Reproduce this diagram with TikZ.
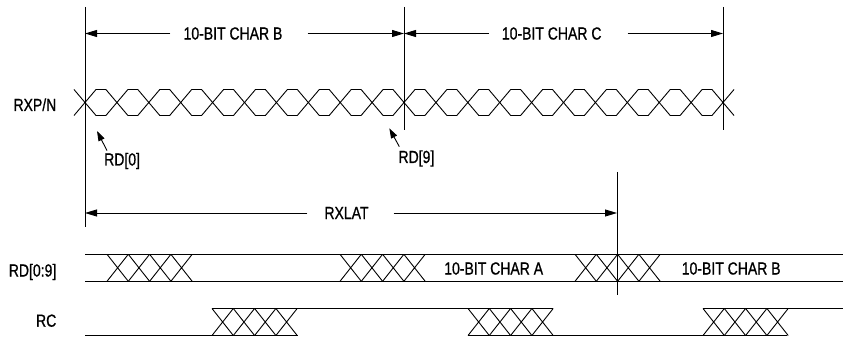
\documentclass[tikz,border=0pt]{standalone}
\usepackage{fontspec}
\setmainfont{Liberation Sans}[FakeStretch=0.8,FakeBold=0.8]
\usetikzlibrary{arrows.meta}

\tikzset{
  sig/.style={line width=0.9pt},
  dim/.style={line width=0.9pt,-{Triangle[length=12pt,width=7pt]}},
  ptr/.style={line width=0.9pt,-{Triangle[length=10pt,width=6.5pt]}},
  lbl/.style={inner sep=0pt,font=\fontsize{17.5}{20}\selectfont}
}

% four crossings starting at x=#1, between y=#2 and y=#3
\newcommand{\busxing}[3]{%
  \foreach \k in {0,...,3}
    \draw[sig] (#1+21.3*\k,#2) -- (#1+21.3*\k+21.3,#3)
               (#1+21.3*\k,#3) -- (#1+21.3*\k+21.3,#2);
}

\begin{document}
\begin{tikzpicture}[x=1pt,y=-1pt]
        \useasboundingbox (0,0) rectangle (843,339);

        % timing marks
        \coordinate (tA) at (85,7);   \coordinate (bA) at (85,227);
        \coordinate (tB) at (404,7);  \coordinate (bB) at (404,130);
        \coordinate (tC) at (723,7);  \coordinate (bC) at (723,130);
        \coordinate (tD) at (617,172); \coordinate (bD) at (617,295);
        \draw[sig] (tA) -- (bA);
        \draw[sig] (tB) -- (bB);
        \draw[sig] (tC) -- (bC);
        \draw[sig] (tD) -- (bD);

        % serial data, 20 bits
        \foreach \k in {0,...,19} {
          \pgfmathsetmacro{\cx}{85+31.9*\k}
          \draw[sig] (\cx,102.5) -- (\cx+11,89.5) -- (\cx+20.9,89.5) -- (\cx+31.9,102.5)
                     -- (\cx+20.9,115.5) -- (\cx+11,115.5) -- cycle;
        }
        \draw[sig] (74,89.5) -- (85,102.5) -- (74,115.5); % left end
        \draw[sig] (734,89.5) -- (723,102.5) -- (734,115.5); % right end

        % character widths
        \node[lbl] (charB) at (233,33.5) {10-BIT CHAR B};
        \draw[dim] ([xshift=-13pt]charB.west) -- (charB.west -| tA);
        \draw[dim] ([xshift=25pt]charB.east) -- (charB.east -| tB);
        \node[lbl] (charC) at (551.7,33.5) {10-BIT CHAR C};
        \draw[dim] ([xshift=-12.5pt]charC.west) -- (charC.west -| tB);
        \draw[dim] ([xshift=26pt]charC.east) -- (charC.east -| tC);

        % latency
        \node[lbl] (rxlat) at (346.5,213) {RXLAT};
        \draw[dim] ([xshift=-17pt]rxlat.west) -- (rxlat.west -| tA);
        \draw[dim] ([xshift=25pt]rxlat.east) -- (rxlat.east -| tD);

        % bit pointers
        \coordinate (rd0tip) at (97,131);
        \coordinate (rd9tip) at (389.3,128.3);
        \node[lbl,anchor=base west] (rd0) at (104,165.5) {RD[0]};
        \node[lbl,anchor=base west] (rd9) at (398.3,163) {RD[9]};
        \draw[ptr] ([shift={(3pt,2pt)}]rd0.north west) -- (rd0tip);
        \draw[ptr] ([shift={(1pt,3.5pt)}]rd9.north west) -- (rd9tip);

        % signal names
        \node[lbl,anchor=base east] (nRXP) at (56.5,111) {RXP/N};
        \node[lbl,anchor=base east] (nRD) at (56.5,276.5) {RD[0:9]};
        \node[lbl,anchor=base east] (nRC) at (56.5,326.7) {RC};

        % parallel data bus
        \draw[sig] (85,254.3) -- (843,254.3) (85,281.3) -- (843,281.3);
        \busxing{107}{254.3}{281.3}
        \busxing{340}{254.3}{281.3}
        \busxing{575}{254.3}{281.3}
        \node[lbl] (charA2) at (493.7,268.5) {10-BIT CHAR A};
        \node[lbl] (charB2) at (731.2,268.5) {10-BIT CHAR B};

        % recovered clock
        \draw[sig] (85,335.5) -- (298,335.5) (212,308.5) -- (553,308.5)
                   (468,335.5) -- (787,335.5) (703,308.5) -- (843,308.5);
        \busxing{212}{308.5}{335.5}
        \busxing{468}{308.5}{335.5}
        \busxing{703}{308.5}{335.5}
    \end{tikzpicture}
\end{document}
